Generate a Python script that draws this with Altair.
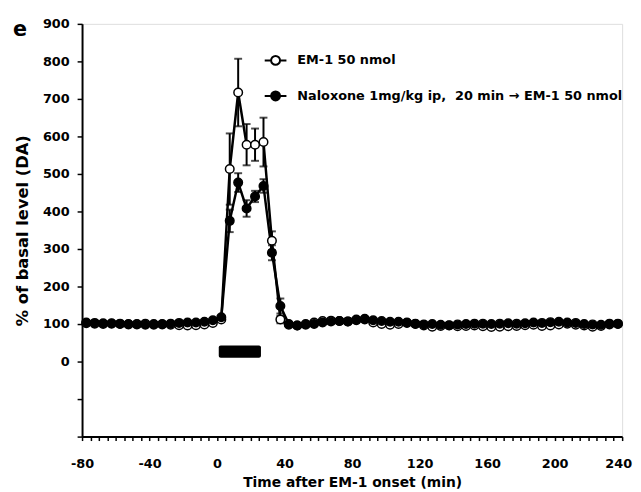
import altair as alt
import pandas as pd

# ---- data ----
times = [-77.5, -72.5, -67.5, -62.5, -57.5, -52.5, -47.5, -42.5, -37.5, -32.5,
         -27.5, -22.5, -17.5, -12.5, -7.5, -2.5,
         2.5, 7.5, 12.5, 17.5, 22.5, 27.5, 32.5, 37.5,
         42.5, 47.5, 52.5, 57.5, 62.5, 67.5, 72.5, 77.5, 82.5, 87.5,
         92.5, 97.5, 102.5, 107.5, 112.5, 117.5, 122.5, 127.5, 132.5, 137.5,
         142.5, 147.5, 152.5, 157.5, 162.5, 167.5, 172.5, 177.5, 182.5, 187.5,
         192.5, 197.5, 202.5, 207.5, 212.5, 217.5, 222.5, 227.5, 232.5, 237.5]

em1 = [102, 101, 100, 101, 100, 99, 100, 101, 100, 99,
       98, 97, 96, 97, 99, 103,
       112, 513, 717, 578, 578, 585, 322, 112,
       98, 96, 100, 104, 108, 109, 108, 107, 112, 114,
       104, 100, 98, 100, 103, 101, 96, 93, 95, 96,
       94, 95, 96, 94, 92, 93, 94, 95, 97, 98,
       95, 96, 99, 101, 98, 96, 93, 95, 99, 100]

nal = [104, 103, 102, 102, 101, 100, 99, 98, 98, 100,
       101, 103, 104, 104, 106, 110,
       118, 375, 477, 408, 440, 468, 290, 148,
       100, 96, 98, 100, 104, 107, 108, 107, 110, 112,
       110, 108, 106, 106, 104, 100, 99, 100, 98, 97,
       99, 100, 101, 101, 100, 101, 102, 101, 102, 104,
       103, 105, 106, 104, 103, 100, 99, 98, 101, 101]

err_times = [7.5, 12.5, 17.5, 22.5, 27.5, 32.5, 37.5]
em1_sem = [95, 90, 55, 43, 65, 25, 10]
nal_sem = [30, 25, 22, 15, 18, 20, 20]

bar_start, bar_end = [1], [26]
bar_low, bar_high = [10], [43]

x_ticks = list(range(-80, 245, 5))
y_ticks = list(range(-200, 1000, 100))

s1 = "EM-1 50 nmol"
s2 = "Naloxone 1mg/kg ip, \u00a020 min \u2192 EM-1 50 nmol"

# ---- tables ----
df = pd.concat([
    pd.DataFrame({"time": times, "value": em1, "series": s1, "order": 0}),
    pd.DataFrame({"time": times, "value": nal, "series": s2, "order": 1}),
], ignore_index=True)

lookup1 = dict(zip(times, em1))
lookup2 = dict(zip(times, nal))
err = pd.concat([
    pd.DataFrame({"time": err_times,
                  "value": [lookup1[t] - e for t, e in zip(err_times, em1_sem)],
                  "hi": [lookup1[t] + e for t, e in zip(err_times, em1_sem)],
                  "series": s1}),
    pd.DataFrame({"time": err_times,
                  "value": [lookup2[t] - e for t, e in zip(err_times, nal_sem)],
                  "hi": [lookup2[t] + e for t, e in zip(err_times, nal_sem)],
                  "series": s2}),
], ignore_index=True)

bar = pd.DataFrame({"time": bar_start, "x2": bar_end, "value": bar_low, "y2": bar_high})

FONT = "DejaVu Sans"

xscale = alt.Scale(domain=[-80, 240], nice=False, zero=False)
yscale = alt.Scale(domain=[-200, 900], nice=False, zero=False)

xaxis = alt.Axis(
    values=x_ticks,
    labelExpr="datum.value % 40 == 0 ? toString(datum.value) : ''",
    labelOffset=alt.ExprRef("datum.value == 240 ? -4 : 0"),
    title="Time after EM-1 onset (min)",
    grid=False, domainColor="black", domainWidth=2, tickColor="black",
    tickWidth=1.5, tickSize=4, labelPadding=17, labelFont=FONT,
    labelFontSize=13, labelFontWeight="bold", labelColor="black",
    titleFont=FONT, titleFontSize=14, titleFontWeight="bold",
    titleColor="black", titlePadding=6, labelFlush=False, labelOverlap=False,
)
yaxis = alt.Axis(
    values=y_ticks,
    labelExpr="datum.value >= 0 ? toString(datum.value) : ''",
    title="% of basal level (DA)",
    grid=False, domainColor="black", domainWidth=2, tickColor="black",
    tickWidth=1.5, tickSize=5, labelPadding=8, labelFont=FONT,
    labelFontSize=13, labelFontWeight="bold", labelColor="black",
    titleFont=FONT, titleFontSize=16.5, titleFontWeight="bold",
    titleColor="black", titlePadding=12, labelFlush=False, labelOverlap=False,
)

X = alt.X("time:Q", scale=xscale, axis=xaxis, title="Time after EM-1 onset (min)")
Y = alt.Y("value:Q", scale=yscale, axis=yaxis, title="% of basal level (DA)")

legend_symbol = ("M-1,0L-0.41,0M0.41,0L1,0M0.41,0A0.41,0.41,0,1,1,-0.41,0"
                 "A0.41,0.41,0,1,1,0.41,0Z")

base = alt.Chart(df)

lines = base.mark_line(color="black", strokeWidth=2.5).encode(
    x=X, y=Y, detail="series:N", order="time:Q",
)

rules = alt.Chart(err).mark_rule(color="black", strokeWidth=2).encode(
    x=X, y=Y, y2="hi:Q")
caps_hi = alt.Chart(err).mark_tick(color="black", orient="horizontal",
                                   size=8, thickness=2).encode(
    x=X, y=alt.Y("hi:Q", scale=yscale, axis=yaxis, title="% of basal level (DA)"))
caps_lo = alt.Chart(err).mark_tick(color="black", orient="horizontal",
                                   size=8, thickness=2).encode(x=X, y=Y)

points = base.mark_point(shape="circle", filled=True, size=75, stroke="black",
                         strokeWidth=1.5, opacity=1).encode(
    x=X, y=Y,
    fill=alt.Fill("series:N",
                  scale=alt.Scale(domain=[s1, s2], range=["white", "black"]),
                  legend=alt.Legend(
                      orient="none", legendX=184, legendY=25, title=None,
                      symbolType=legend_symbol, symbolSize=484,
                      symbolStrokeColor="black", symbolStrokeWidth=2,
                      symbolOpacity=1,
                      labelFont=FONT, labelFontSize=13, labelFontWeight="bold",
                      labelColor="black", labelOffset=10, labelLimit=500,
                      rowPadding=15, padding=0, direction="vertical")),
    order="order:Q",
)

infusion = alt.Chart(bar).mark_rect(color="black", cornerRadius=2).encode(
    x=X, x2="x2:Q", y=Y, y2="y2:Q")

chart = alt.layer(infusion, lines, rules, caps_hi, caps_lo, points).properties(
    width=547, height=418,
    autosize=alt.AutoSizeParams(type="none"),
    padding={"left": 75, "top": 13, "right": 11, "bottom": 50},
    title=alt.TitleParams("e", anchor="start", frame="group", font=FONT,
                          fontSize=21, fontWeight="bold", color="black",
                          dx=-70, dy=43, baseline="alphabetic"),
).configure_view(stroke=None).configure(font=FONT, background="white")

chart.save("out.html", embed_options={"renderer": "svg", "actions": False})
